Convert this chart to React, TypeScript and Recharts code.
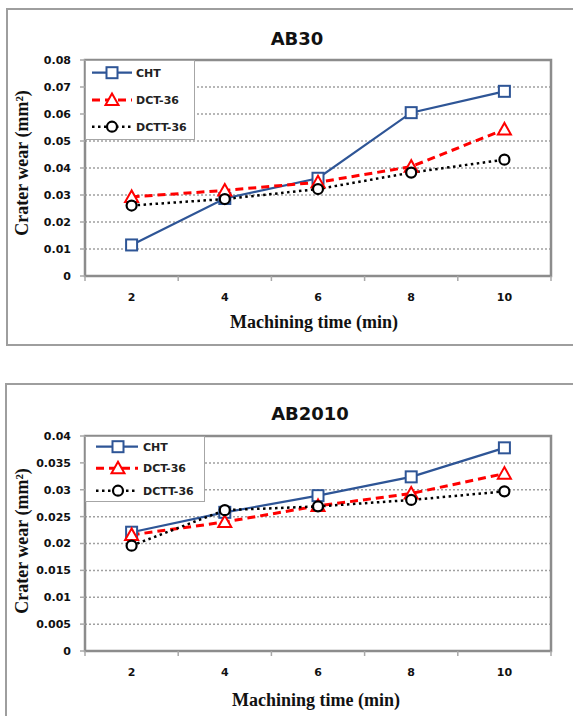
import React from 'react';
import {
  LineChart,
  Line,
  XAxis,
  YAxis,
  CartesianGrid,
  ReferenceArea,
  Legend,
} from 'recharts';

// Machining time (min)
const times = [2, 4, 6, 8, 10];
const xTicks = [1, 2, 3, 4, 5, 6, 7, 8, 9, 10, 11];

// AB30 crater wear (mm2)
const ab30Cht = [0.0115, 0.0287, 0.0362, 0.0605, 0.0684];
const ab30Dct = [0.0293, 0.0317, 0.0347, 0.0405, 0.0543];
const ab30Dctt = [0.0261, 0.0285, 0.0322, 0.0383, 0.0431];
const ab30YTicks = [0, 0.01, 0.02, 0.03, 0.04, 0.05, 0.06, 0.07, 0.08];

// AB2010 crater wear (mm2)
const ab2010Cht = [0.0221, 0.0258, 0.0289, 0.0324, 0.0378];
const ab2010Dct = [0.0216, 0.024, 0.027, 0.0293, 0.033];
const ab2010Dctt = [0.0196, 0.0262, 0.0269, 0.0281, 0.0297];
const ab2010YTicks = [0, 0.005, 0.01, 0.015, 0.02, 0.025, 0.03, 0.035, 0.04];

const seriesNames = ['CHT', 'DCT-36', 'DCTT-36'];

const seriesStyles = [
  { color: '#2e5596', dash: undefined, width: 2.2, marker: 'square' },
  { color: '#ff0000', dash: '8 5', width: 3, marker: 'triangle' },
  { color: '#000000', dash: '2.5 3.5', width: 2.5, marker: 'circle' },
];

const sansBold = { fontFamily: 'DejaVu Sans', fontWeight: 'bold' as const };
const serifBold = { fontFamily: 'Liberation Serif', fontWeight: 'bold' as const };

function buildRows(cht: number[], dct: number[], dctt: number[]) {
  return times.map((t, i) => ({
    time: t,
    [seriesNames[0]]: cht[i],
    [seriesNames[1]]: dct[i],
    [seriesNames[2]]: dctt[i],
  }));
}

function Marker({ cx, cy, shape, color }: any) {
  if (cx == null || cy == null) return null;
  if (shape === 'square') {
    return (
      <rect x={cx - 5.5} y={cy - 5.5} width={11} height={11} fill="#fff" stroke={color} strokeWidth={2} />
    );
  }
  if (shape === 'triangle') {
    return (
      <polygon
        points={`${cx},${cy - 6.5} ${cx - 6.5},${cy + 5} ${cx + 6.5},${cy + 5}`}
        fill="#fff"
        stroke={color}
        strokeWidth={2}
      />
    );
  }
  return <circle cx={cx} cy={cy} r={5} fill="#fff" stroke={color} strokeWidth={2.2} />;
}

function TimeTick({ x, y, payload }: any) {
  const v = payload.value;
  if (v % 2 === 1) {
    return <line x1={x} y1={y} x2={x} y2={y + 5} stroke="#a8a8a8" strokeWidth={1.5} />;
  }
  return (
    <text x={x} y={y + 25} textAnchor="middle" fontSize={11} fill="#111" {...sansBold}>
      {v}
    </text>
  );
}

function LegendBox({ lg }: any) {
  return (
    <div
      style={{
        width: lg.width,
        height: lg.height,
        border: '1px solid #a6a6a6',
        background: '#fff',
        boxSizing: 'border-box',
      }}
    >
      <svg width={lg.width} height={lg.height} style={{ position: 'absolute', left: 0, top: 0 }}>
        {seriesNames.map((name, i) => {
          const s = seriesStyles[i];
          const y = lg.rows[i];
          return (
            <g key={name}>
              <line
                x1={lg.lineX[0]}
                y1={y}
                x2={lg.lineX[1]}
                y2={y}
                stroke={s.color}
                strokeWidth={s.width}
                strokeDasharray={s.dash}
              />
              <Marker cx={lg.markX} cy={y} shape={s.marker} color={s.color} />
              <text x={lg.textX} y={y + 4} fontSize={11} fill="#222" {...sansBold}>
                {name}
              </text>
            </g>
          );
        })}
      </svg>
    </div>
  );
}

function WearChart({ title, rows, yMax, yTicks, cfg }: any) {
  return (
    <div style={{ position: 'absolute', left: 0, top: cfg.top, width: 573, height: cfg.height }}>
      <div
        style={{
          position: 'absolute',
          left: cfg.titleX - 150,
          top: cfg.titleTop,
          width: 300,
          textAlign: 'center',
          fontSize: 18,
          lineHeight: '20px',
          color: '#111',
          ...sansBold,
        }}
      >
        {title}
      </div>
      <LineChart
        width={573}
        height={cfg.height}
        data={rows}
        margin={{ top: cfg.marginTop, right: 22, bottom: cfg.marginBottom, left: 0 }}
      >
        <CartesianGrid
          vertical={false}
          stroke="#a0a0a0"
          strokeWidth={1.5}
          strokeDasharray="2 2"
        />
        <ReferenceArea
          x1={1}
          x2={11}
          y1={0}
          y2={yMax}
          fill="none"
          stroke="#8c8c8c"
          strokeWidth={2.5}
          ifOverflow="visible"
        />
        <XAxis
          dataKey="time"
          type="number"
          domain={[1, 11]}
          ticks={xTicks}
          interval={0}
          height={50}
          axisLine={false}
          tickLine={false}
          tickSize={0}
          tickMargin={0}
          tick={<TimeTick />}
          label={{
            content: ({ viewBox }: any) => (
              <text
                x={cfg.xLabelX}
                y={viewBox.y + cfg.xLabelDy}
                textAnchor="middle"
                fontSize={18}
                fill="#111"
                {...serifBold}
              >
                Machining time (min)
              </text>
            ),
          }}
        />
        <YAxis
          type="number"
          domain={[0, yMax]}
          ticks={yTicks}
          interval={0}
          width={85}
          axisLine={false}
          tickLine={{ stroke: '#a8a8a8', strokeWidth: 1.5 }}
          tickSize={5}
          tickMargin={9}
          tick={{ fill: '#111', fontSize: 11, ...sansBold }}
          label={{
            content: () => (
              <text
                x={27.5}
                y={cfg.yLabelY}
                transform={`rotate(-90, 27.5, ${cfg.yLabelY})`}
                textAnchor="middle"
                fontSize={18}
                fill="#111"
                {...serifBold}
              >
                Crater wear (mm²)
              </text>
            ),
          }}
        />
        <Legend
          layout="vertical"
          align="center"
          verticalAlign="middle"
          wrapperStyle={{ left: 85, top: cfg.legend.top, width: cfg.legend.width, height: cfg.legend.height }}
          content={() => <LegendBox lg={cfg.legend} />}
        />
        {seriesNames.map((name, i) => {
          const s = seriesStyles[i];
          return (
            <Line
              key={name}
              type="linear"
              dataKey={name}
              stroke={s.color}
              strokeWidth={s.width}
              strokeDasharray={s.dash}
              isAnimationActive={false}
              activeDot={false}
              dot={(p: any) => (
                <Marker key={`${name}-${p.index}`} cx={p.cx} cy={p.cy} shape={s.marker} color={s.color} />
              )}
            />
          );
        })}
      </LineChart>
    </div>
  );
}

const topCfg = {
  top: 0,
  height: 350,
  marginTop: 60,
  marginBottom: 24,
  titleX: 297,
  titleTop: 28.5,
  xLabelX: 314,
  xLabelDy: 52,
  yLabelY: 163,
  legend: { top: 60, width: 110, height: 80, rows: [12.7, 40, 66.7], lineX: [7, 47], markX: 27, textX: 51 },
};

const bottomCfg = {
  top: 370,
  height: 346,
  marginTop: 66,
  marginBottom: 15,
  titleX: 310,
  titleTop: 33.7,
  xLabelX: 316,
  xLabelDy: 54.5,
  yLabelY: 171,
  legend: { top: 66, width: 120, height: 66, rows: [10.7, 32.3, 54.7], lineX: [11, 53], markX: 33, textX: 58 },
};

export default function App() {
  return (
    <div
      style={{
        position: 'absolute',
        left: 0,
        top: 0,
        width: 573,
        height: 716,
        overflow: 'hidden',
        background: '#fff',
      }}
    >
      <div
        style={{
          position: 'absolute',
          left: 6,
          top: 8,
          width: 620,
          height: 338,
          border: '2px solid #9e9e9e',
          boxSizing: 'border-box',
        }}
      />
      <div
        style={{
          position: 'absolute',
          left: 5,
          top: 383,
          width: 620,
          height: 400,
          border: '2px solid #9e9e9e',
          boxSizing: 'border-box',
        }}
      />
      <WearChart
        title="AB30"
        rows={buildRows(ab30Cht, ab30Dct, ab30Dctt)}
        yMax={0.08}
        yTicks={ab30YTicks}
        cfg={topCfg}
      />
      <WearChart
        title="AB2010"
        rows={buildRows(ab2010Cht, ab2010Dct, ab2010Dctt)}
        yMax={0.04}
        yTicks={ab2010YTicks}
        cfg={bottomCfg}
      />
    </div>
  );
}
